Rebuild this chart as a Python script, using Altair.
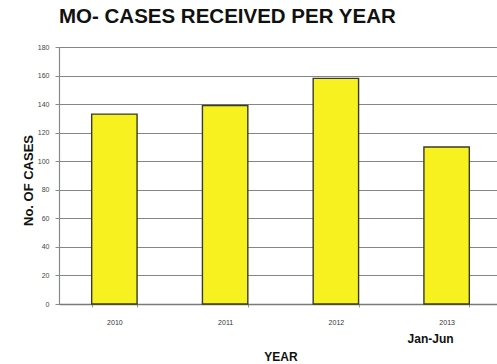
import altair as alt
import pandas as pd

# Cases received per year (2013 covers Jan-Jun only)
years = ["2010", "2011", "2012", "2013"]
cases = [133, 139, 158, 110]
y_ticks = [0, 20, 40, 60, 80, 100, 120, 140, 160, 180]

df = pd.DataFrame({"year": years, "cases": cases})
note = pd.DataFrame({"year": ["2013"], "label": ["Jan-Jun"]})

FONT = "Liberation Sans"

x_scale = alt.Scale(domain=years, range=[0, 443], paddingInner=0.59, paddingOuter=0.295)

bars = alt.Chart(df).mark_bar(
    color="#f7f21f", stroke="#3a3a2a", strokeWidth=1.4
).encode(
    x=alt.X(
        "year:N",
        scale=x_scale,
        sort=years,
        axis=alt.Axis(
            title="YEAR",
            titleFont=FONT,
            titleFontSize=12,
            titleFontWeight="bold",
            titleColor="#111111",
            titleY=52,
            titleBaseline="middle",
            labelFont=FONT,
            labelFontSize=7,
            labelColor="#333333",
            labelAngle=0,
            labelPadding=11,
            tickBand="extent",
            tickSize=3,
            tickColor="#999999",
            domainColor="#7a7a7a",
            domainWidth=1.5,
            grid=False,
        ),
    ),
    y=alt.Y(
        "cases:Q",
        scale=alt.Scale(domain=[0, 180], nice=False),
        axis=alt.Axis(
            values=y_ticks,
            title="No. OF CASES",
            titleFont=FONT,
            titleFontSize=13,
            titleFontWeight="bold",
            titleColor="#111111",
            titleX=-31,
            titleY=133,
            titleBaseline="middle",
            labelFont=FONT,
            labelFontSize=7,
            labelColor="#444444",
            labelPadding=6,
            tickSize=4,
            tickColor="#8a8a8a",
            domainColor="#8a8a8a",
            domainWidth=1.2,
            grid=True,
            gridColor="#858585",
            gridWidth=1.2,
        ),
    ),
)

period = alt.Chart(note).mark_text(
    font=FONT, fontSize=12, fontWeight="bold", color="#111111",
    align="right", baseline="middle", dx=7,
).encode(
    x=alt.X("year:N", scale=x_scale, sort=years),
    y=alt.value(292),
    text="label:N",
)

chart = alt.layer(bars, period).properties(
    width=438,
    height=257,
    autosize=alt.AutoSizeParams(type="none"),
    padding={"left": 59, "top": 47, "right": 0, "bottom": 60},
    title=alt.TitleParams(
        "MO- CASES RECEIVED PER YEAR",
        anchor="start",
        frame="group",
        font=FONT,
        fontSize=20.5,
        fontWeight="bold",
        color="#111111",
        offset=16,
    ),
).configure_view(
    fill="#c0c0c0", stroke=None
).configure(background="white")

chart.save("out.html", embed_options={"renderer": "svg", "actions": False})
